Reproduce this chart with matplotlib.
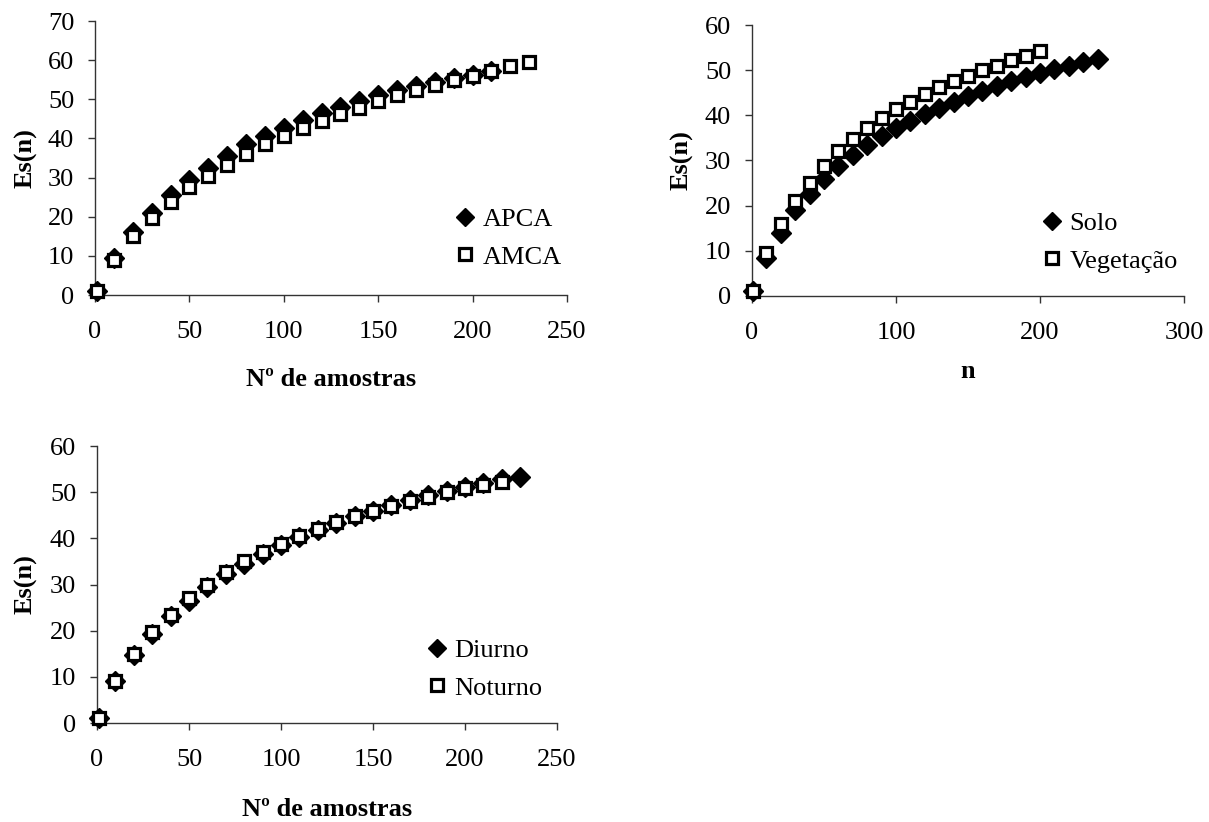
import matplotlib
matplotlib.use("Agg")
import matplotlib.pyplot as plt
from matplotlib.lines import Line2D

plt.rcParams['font.family'] = ['Liberation Serif', 'DejaVu Serif']

# ---- data ----
n_apca = [1] + list(range(10, 211, 10))
apca = [1, 9.5, 16, 21, 25.5, 29.5, 32.5, 35.5, 38.5, 40.7, 42.7, 44.7, 46.5, 48,
        49.5, 51, 52.3, 53.5, 54.5, 55.5, 56.3, 57.2]
n_amca = [1] + list(range(10, 231, 10))
amca = [1, 9, 15, 19.7, 23.7, 27.5, 30.5, 33.3, 36, 38.5, 40.7, 42.7, 44.5, 46.2,
        47.8, 49.5, 51, 52.3, 53.7, 55, 56, 57.2, 58.5, 59.5]

n_solo = [1] + list(range(10, 241, 10))
solo = [1, 8.5, 14, 19, 22.5, 26, 28.7, 31.2, 33.5, 35.5, 37.2, 38.7, 40.2, 41.7,
        43, 44.2, 45.4, 46.5, 47.5, 48.5, 49.3, 50.2, 51, 51.7, 52.5]
n_veg = [1] + list(range(10, 201, 10))
veg = [1, 9.5, 16, 21, 25, 28.8, 32, 34.8, 37.2, 39.3, 41.3, 43, 44.7, 46.2, 47.5,
       48.8, 50, 51, 52.2, 53.2, 54.2]

n_diurno = [1] + list(range(10, 231, 10))
diurno = [1, 9, 14.7, 19.3, 23.2, 26.5, 29.5, 32.2, 34.5, 36.6, 38.5, 40.3, 41.9,
          43.4, 44.8, 46, 47.2, 48.2, 49.3, 50.3, 51.2, 52, 52.8, 53.3]
n_noturno = [1] + list(range(10, 221, 10))
noturno = [1, 9, 15, 19.7, 23.5, 27, 30, 32.7, 35, 37, 38.8, 40.5, 42, 43.5, 44.8,
           46, 47, 48, 49, 50, 50.8, 51.5, 52.2]

ticks_x1 = [0, 50, 100, 150, 200, 250]
ticks_y1 = [0, 10, 20, 30, 40, 50, 60, 70]
ticks_x2 = [0, 100, 200, 300]
ticks_y2 = [0, 10, 20, 30, 40, 50, 60]

W, H = 1209, 822
fig = plt.figure(figsize=(W / 100, H / 100), dpi=100)


def make_ax(x0, x1, ytop, ybot):
    return fig.add_axes([x0 / W, 1 - ybot / H, (x1 - x0) / W, (ybot - ytop) / H])


FS = 19
DIA = dict(marker='D', ms=9.8, color='black', mfc='black', mec='black', ls='none',
           clip_on=False, zorder=3)
SQ = dict(marker='s', ms=9.3, mfc='white', mec='black', mew=2.3, ls='none',
          clip_on=False, zorder=4)


def style(ax, xticks, yticks, xlabel, xlab_y, ylab_x):
    ax.set_xlim(xticks[0], xticks[-1])
    ax.set_ylim(yticks[0], yticks[-1])
    ax.set_xticks(xticks)
    ax.set_yticks(yticks)
    for s in ['top', 'right']:
        ax.spines[s].set_visible(False)
    for s in ['left', 'bottom']:
        ax.spines[s].set_color('#333333')
        ax.spines[s].set_linewidth(1.0)
    ax.tick_params(axis='both', direction='out', length=5, width=1.0,
                   color='#333333', labelsize=FS)
    ax.tick_params(axis='x', pad=14)
    ax.tick_params(axis='y', pad=10)
    ax.set_xlabel(xlabel, fontsize=FS, fontweight='bold', va='center')
    ax.set_ylabel('Es(n)', fontsize=FS, fontweight='bold', va='center')
    ax.xaxis.set_label_coords(0.5, xlab_y)
    ax.yaxis.set_label_coords(ylab_x, 0.5)


def add_legend(ax, labels, xpix, ypix):
    h = [Line2D([], [], **{k: v for k, v in DIA.items() if k not in ('clip_on', 'zorder')}),
         Line2D([], [], **{k: v for k, v in SQ.items() if k not in ('clip_on', 'zorder')})]
    ax.legend(h, labels, loc='center left', bbox_to_anchor=(xpix / W, 1 - ypix / H),
              bbox_transform=fig.transFigure, frameon=False, fontsize=FS,
              handlelength=0.7, handletextpad=0.3, labelspacing=0.55,
              borderpad=0, borderaxespad=0, markerscale=0.9)


# Panel 1
ax1 = make_ax(95, 567, 21, 295)
ax1.plot(n_apca, apca, **DIA)
ax1.plot(n_amca, amca, **SQ)
style(ax1, ticks_x1, ticks_y1, 'Nº de amostras', -0.31, -0.147)
add_legend(ax1, ['APCA', 'AMCA'], 456, 238)

# Panel 2
ax2 = make_ax(752, 1184, 25, 296)
ax2.plot(n_solo, solo, **DIA)
ax2.plot(n_veg, veg, **SQ)
style(ax2, ticks_x2, ticks_y2, 'n', -0.28, -0.163)
add_legend(ax2, ['Solo', 'Vegetação'], 1043, 242)

# Panel 3
ax3 = make_ax(97, 557, 446, 723)
ax3.plot(n_diurno, diurno, **DIA)
ax3.plot(n_noturno, noturno, **SQ)
style(ax3, ticks_x1, ticks_y2, 'Nº de amostras', -0.314, -0.155)
add_legend(ax3, ['Diurno', 'Noturno'], 428, 669)

fig.savefig('out.png', dpi=100)
